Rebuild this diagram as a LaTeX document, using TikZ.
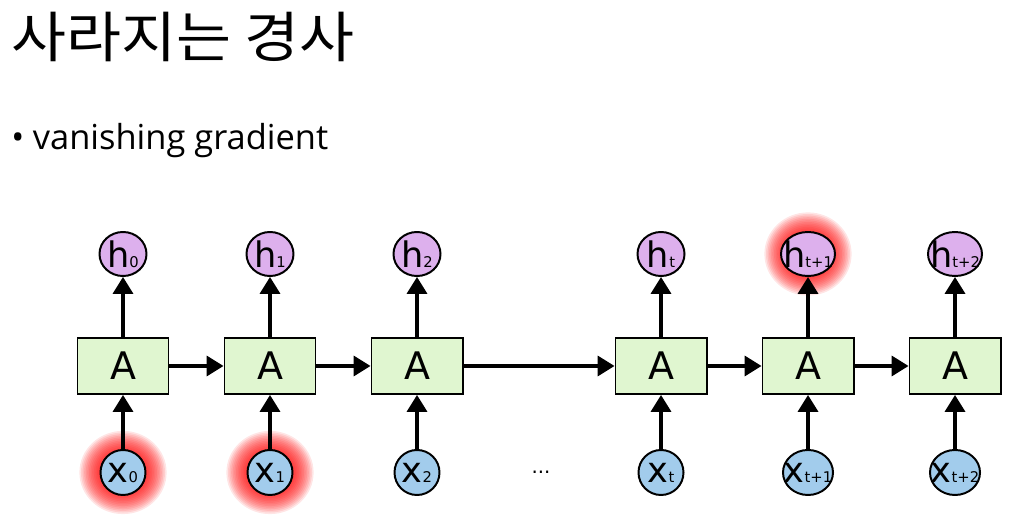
\documentclass[tikz,border=0pt]{standalone}
\usepackage{fontspec}
\setmainfont{DejaVu Sans}
\newfontfamily\korfont[FakeStretch=1.09]{Noto Sans CJK KR}
\newfontfamily\slidefont{Open Sans}
\usetikzlibrary{arrows.meta, positioning, shapes.geometric, backgrounds}
\definecolor{cellgreen}{RGB}{224,246,208}
\definecolor{hpurple}{RGB}{221,176,237}
\definecolor{xblue}{RGB}{162,204,236}
\tikzset{
  cell/.style={
    draw,
    rectangle,
    fill=cellgreen,
    line width=1.4pt,
    minimum width=2.275cm,
    minimum height=1.4cm,
    font=\fontsize{27}{27}\selectfont,
  },
  outstate/.style={
    draw,
    ellipse,
    fill=hpurple,
    line width=1.4pt,
    minimum width=1.175cm,
    minimum height=1.1cm,
    inner sep=0pt,
    font=\fontsize{25}{25}\selectfont,
  },
  instate/.style={
    outstate,
    fill=xblue,
    minimum width=1.125cm,
    minimum height=1.125cm
  },
  arrow/.style={
    -{Triangle[length=0.42cm,width=0.5cm]},
    line width=2.2pt
  }
}
\newcommand{\lbl}[2]{\makebox[0pt]{#1{\fontsize{10.5}{10.5}\selectfont #2}}}

\begin{document}
\begin{tikzpicture}[x=0.025cm, y=-0.025cm]
\useasboundingbox (0,0) rectangle (1021,523);

% heading
\node[anchor=base west, inner sep=0, font=\korfont\fontsize{39}{39}\selectfont] (title) at (11,58) {사라지는 경사};
\node[anchor=base west, inner sep=0, font=\slidefont\fontsize{24.5}{24.5}\selectfont] (bullet) at (11,150) {•\hspace{0.25em}vanishing gradient};

% cells
\node[cell] (a0) at (123,366) {A};
\node[cell] (a1) at (270,366) {A};
\node[cell] (a2) at (417,366) {A};
\node[cell] (a3) at (661,366) {A};
\node[cell] (a4) at (808,366) {A};
\node[cell] (a5) at (955,366) {A};

% outputs
\node[outstate, above=1.5cm of a0] (h0) {\lbl{h}{0}};
\node[outstate, above=1.5cm of a1] (h1) {\lbl{h}{1}};
\node[outstate, above=1.5cm of a2] (h2) {\lbl{h}{2}};
\node[outstate, above=1.5cm of a3] (ht) {\lbl{h}{t}};
\node[outstate, above=1.5cm of a4, minimum width=1.35cm] (ht1) {\lbl{h}{t+1}};
\node[outstate, above=1.5cm of a5, minimum width=1.35cm] (ht2) {\lbl{h}{t+2}};

% inputs
\node[instate, below=1.35cm of a0] (x0) {\lbl{x}{0}};
\node[instate, below=1.35cm of a1] (x1) {\lbl{x}{1}};
\node[instate, below=1.35cm of a2] (x2) {\lbl{x}{2}};
\node[instate, below=1.35cm of a3] (xt) {\lbl{x}{t}};
\node[instate, below=1.35cm of a4, minimum width=1.25cm] (xt1) {\lbl{x}{t+1}};
\node[instate, below=1.35cm of a5, minimum width=1.25cm] (xt2) {\lbl{x}{t+2}};
\node[font=\fontsize{14}{14}\selectfont] (dots) at (541,472) {...};

% connections
\foreach \c/\h/\x in {a0/h0/x0, a1/h1/x1, a2/h2/x2, a3/ht/xt, a4/ht1/xt1, a5/ht2/xt2} {
  \draw[arrow] (\c) -- (\h);
  \draw[arrow] (\x) -- (\c);
}
\draw[arrow] (a0) -- (a1);
\draw[arrow] (a1) -- (a2);
\draw[arrow] (a2) -- (a3);
\draw[arrow] (a3) -- (a4);
\draw[arrow] (a4) -- (a5);

% red glow
\begin{scope}[on background layer]
  \foreach \n in {x0, x1, ht1} {
    \foreach \r in {0.56,0.6,...,1.06} {
      \fill[red, opacity=0.1] (\n.center) ellipse [x radius=\r cm + 0.05cm, y radius=\r cm];
    }
  }
\end{scope}

\end{tikzpicture}
\end{document}
